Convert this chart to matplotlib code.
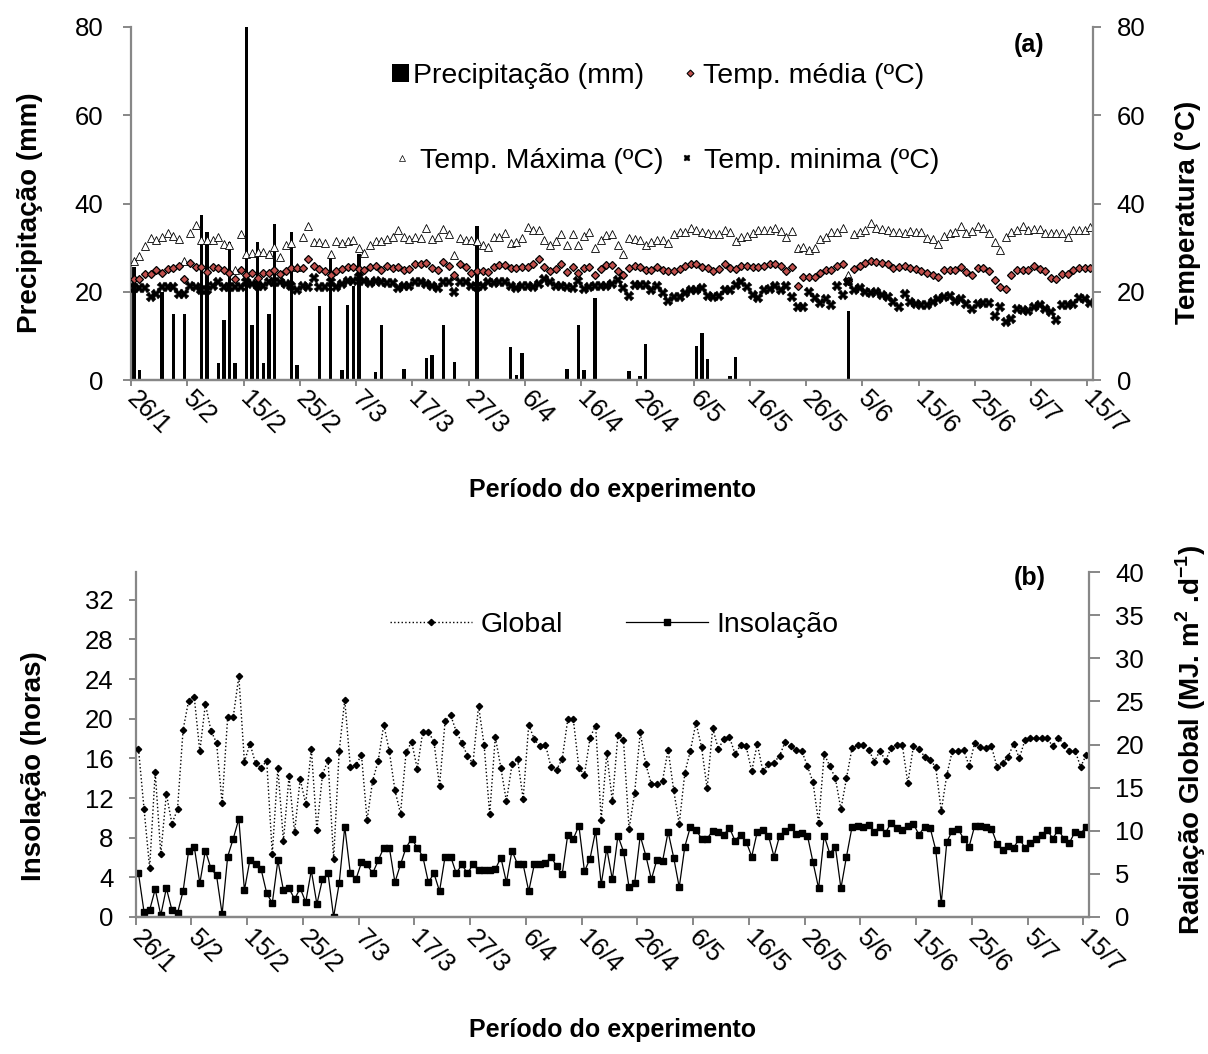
import numpy as np
import matplotlib
matplotlib.use("Agg")
import matplotlib.pyplot as plt
from matplotlib.patches import Patch
from matplotlib.lines import Line2D

plt.rcParams['font.family'] = ['Liberation Sans', 'DejaVu Sans']
plt.rcParams['mathtext.fontset'] = 'custom'
plt.rcParams['mathtext.rm'] = 'Liberation Sans:bold'
plt.rcParams['mathtext.bf'] = 'Liberation Sans:bold'

# ---------------- data (one value per day, 26/1 .. 15/7) ----------------
date_labels = ["26/1", "5/2", "15/2", "25/2", "7/3", "17/3", "27/3", "6/4", "16/4",
               "26/4", "6/5", "16/5", "26/5", "5/6", "15/6", "25/6", "5/7", "15/7"]

# precipitation (mm): day index -> value
rain_days = [0, 1, 5, 7, 9, 12, 13, 15, 16, 17, 18, 20, 21, 22, 23, 24, 25, 28, 29,
             33, 35, 37, 38, 39, 40, 43, 44, 48, 52, 53, 55, 57, 61, 67, 68, 69, 77,
             79, 80, 82, 88, 90, 91, 100, 101, 102, 106, 107, 127]
rain_mm = [25.7, 2.3, 19.9, 15.0, 15.0, 37.5, 33.5, 3.8, 13.7, 31.2, 3.8, 80.0, 12.5,
           31.2, 3.8, 15.0, 35.4, 33.6, 3.3, 16.7, 28.0, 2.3, 17.0, 21.4, 28.6, 1.7,
           12.5, 2.6, 5.0, 5.7, 12.5, 4.0, 34.8, 7.4, 1.2, 6.2, 2.4, 12.5, 2.3, 18.6,
           2.0, 0.8, 8.2, 7.8, 10.7, 4.8, 0.8, 5.1, 15.6]

t_max = [26.9, 28.0, 30.3, 32.2, 31.7, 32.4, 33.3, 32.7, 31.9, 26.9, 33.3, 35.1, 31.7, 31.7,
         31.8, 32.5, 30.8, 30.6, 24.9, 33.0, 28.6, 28.7, 29.0, 29.1, 28.6, 30.1, 27.8, 30.5,
         31.0, 25.5, 32.5, 35.0, 31.3, 31.3, 31.1, 28.6, 31.4, 31.1, 31.4, 31.8, 29.9, 28.8,
         30.6, 31.4, 31.4, 32.0, 32.5, 34.0, 32.5, 32.0, 32.5, 32.2, 34.4, 32.0, 32.5, 34.2,
         33.1, 28.3, 32.2, 31.7, 31.7, 31.6, 30.6, 30.1, 32.5, 32.5, 33.3, 31.0, 31.2, 32.1,
         34.6, 33.9, 33.9, 31.7, 30.5, 31.6, 33.0, 30.7, 33.1, 30.6, 32.6, 33.5, 29.9, 31.7,
         32.9, 33.1,
         30.5, 28.6, 32.2, 32.0, 31.8, 30.7, 31.2, 31.7, 31.7, 31.0, 33.1, 33.5, 33.6, 34.5,
         33.9, 33.5, 33.3, 33.1, 33.0, 33.9, 33.5, 31.4, 32.5, 32.7, 33.3, 33.9, 34.0, 34.0,
         34.5, 33.7, 32.5, 33.7, 29.9, 30.2, 29.5, 29.9, 32.0, 32.5, 33.5, 33.5, 34.5, 23.7,
         33.0,
         33.6, 34.0, 35.5, 34.5, 34.2, 33.9, 33.5, 33.6, 33.4, 33.7, 33.5, 33.6, 32.2, 32.0,
         30.8, 32.7, 33.3, 33.6, 35.0, 33.3, 33.7, 35.0, 34.5, 33.3, 31.2, 29.5, 32.5, 33.5,
         33.9, 34.8, 34.0, 34.2, 34.2, 33.3, 33.3, 33.3, 33.3, 32.5, 34.0, 34.0, 34.0, 34.6]

t_mean = [22.9, 22.9, 24.0, 24.0, 25.0, 24.2, 25.2, 25.3, 25.8, 22.9, 26.5, 25.5, 25.7, 24.4,
          25.5, 25.4, 25.0, 24.3, 22.8, 24.9, 23.7, 24.2, 23.1, 24.2, 24.2, 24.9, 24.0, 24.8,
          25.4, 25.4, 25.4, 27.4, 25.8, 25.2, 24.6, 23.9, 24.8, 25.2, 25.7, 25.5, 25.2, 25.0,
          25.5, 25.9, 24.9, 25.9, 25.4, 25.5, 24.9, 25.2, 26.3, 26.3, 26.5, 25.4, 25.0, 26.7,
          25.9, 23.8, 26.2, 25.7, 24.2, 24.6, 24.6, 24.4, 25.5, 26.1, 26.1, 25.4, 25.3, 25.7,
          25.7, 26.3, 27.4, 25.5, 24.8, 25.2, 26.2, 24.4, 25.7, 24.2, 25.4, 25.5, 23.7, 25.2,
          26.1, 26.1,
          24.6, 23.9, 25.4, 25.9, 25.7, 24.9, 24.9, 25.5, 25.0, 24.8, 24.6, 25.2, 25.9, 26.3,
          26.2, 25.7, 25.4, 24.8, 25.2, 26.2, 25.4, 25.2, 25.9, 25.9, 25.7, 25.5, 25.9, 26.3,
          26.3, 25.9, 24.6, 25.7, 21.4, 23.3, 23.4, 23.3, 24.2, 24.9, 24.9, 25.9, 26.2, 22.5,
          25.2,
          25.9, 26.5, 26.9, 26.7, 26.5, 26.3, 25.3, 25.7, 25.9, 25.4, 25.2, 24.8, 24.2, 23.9,
          23.4, 25.0, 24.9, 25.0, 25.5, 24.4, 23.7, 25.4, 25.4, 24.8, 22.7, 21.0, 20.6, 23.7,
          24.9, 25.0, 25.0, 25.9, 25.2, 24.8, 23.1, 22.9, 24.0, 24.0, 25.0, 25.3, 25.3, 25.4]

t_min = [20.9, 20.9, 20.9, 18.7, 19.5, 21.0, 21.0, 21.0, 19.5, 19.5, 21.4, 21.0, 20.3, 20.3,
         21.4, 22.3, 21.0, 21.0, 21.0, 21.0, 22.1, 21.8, 21.4, 21.4, 22.1, 22.3, 22.1, 21.8,
         21.4, 20.4, 21.4, 21.0, 23.1, 21.0, 21.0, 22.3, 21.0, 21.8, 22.5, 22.5, 23.3, 22.5,
         22.0, 22.4, 22.1, 21.9, 21.9, 20.9, 21.4, 21.4, 22.1, 22.1, 21.8, 21.4, 20.8, 22.1,
         22.3, 20.0, 22.1, 22.1, 21.4, 21.0, 21.4, 22.1, 21.9, 22.1, 22.1, 21.4, 20.8, 21.4,
         21.2, 21.0, 21.8, 22.9, 22.1, 21.4, 21.2, 21.0, 20.8, 22.5, 20.6, 21.0, 21.4, 21.4,
         21.4, 21.8,
         22.7, 20.9, 19.1, 21.5, 21.5, 21.5, 20.3, 21.2, 19.7, 17.8, 18.7, 18.7, 19.7, 20.4,
         20.3, 20.8, 19.1, 18.7, 19.1, 20.3, 20.3, 21.5, 22.3, 21.0, 19.3, 18.5, 20.4, 20.6,
         21.4, 20.4, 21.4, 18.7, 16.5, 16.6, 19.9, 18.5, 17.4, 18.4, 16.9, 21.4, 19.3, 22.1,
         20.3,
         20.9, 19.9, 19.7, 19.9, 19.3, 18.7, 17.6, 16.6, 19.5, 17.6, 17.2, 16.9, 16.9, 17.6,
         18.4, 18.9, 19.1, 18.0, 18.4, 17.2, 16.1, 17.2, 17.4, 17.4, 14.6, 16.5, 13.1, 13.8,
         16.1, 15.9, 15.7, 16.5, 17.1, 16.1, 15.3, 13.5, 16.9, 16.9, 17.2, 18.6, 18.4, 17.4]

insolacao = [4.4, 0.5, 0.7, 2.8, 0.2, 2.9, 0.7, 0.4, 2.6, 6.7, 7.1, 3.4, 6.7, 4.9, 4.2, 0.3,
             6.1, 7.9, 9.9, 2.7, 5.8, 5.3, 4.8, 2.4, 1.4, 5.7, 2.7, 2.9, 1.8, 2.9, 1.5, 4.7,
             1.3, 3.8, 4.4, 0.0, 3.4, 9.1, 4.4, 3.8, 5.5, 5.3,
             4.4, 5.7, 7.0, 7.0, 3.5, 5.3, 7.0, 7.9, 7.0, 6.1, 3.5, 4.4, 2.6, 6.1, 6.1, 4.4,
             5.3, 4.4, 5.3, 4.7, 4.7, 4.7, 4.8, 6.0, 3.5, 6.7, 5.3, 5.3, 2.6, 5.3, 5.3, 5.4,
             6.1, 5.1, 4.3, 8.3, 7.9, 9.2, 4.6, 5.9, 8.7, 3.3, 6.9, 3.8,
             8.2, 6.6, 3.0, 3.4, 8.2, 6.2, 3.8, 5.8, 5.6, 8.6, 6.0, 3.0, 7.1, 9.1, 8.8, 7.9,
             7.9, 8.7, 8.6, 8.3, 9.0, 7.7, 8.3, 7.6, 6.1, 8.6, 8.8, 8.2, 6.1, 8.2, 8.7, 9.1,
             8.4, 8.5, 8.2, 5.5, 2.9, 8.2, 6.4, 7.1, 2.9, 6.1, 9.1,
             9.2, 9.1, 9.3, 8.6, 9.1, 8.5, 9.5, 9.0, 8.8, 9.2, 9.4, 8.3, 9.1, 9.0, 6.8, 1.4,
             7.6, 8.7, 8.9, 7.9, 7.1, 9.2, 9.2, 9.1, 8.9, 7.4, 6.8, 7.2, 7.0, 7.9, 7.0, 7.5,
             7.9, 8.3, 8.8, 7.9, 8.8, 7.9, 7.5, 8.6, 8.4, 9.1]

rad_global = [19.5, 12.5, 5.7, 16.8, 7.3, 14.3, 10.8, 12.5, 21.7, 25.1, 25.5, 19.2, 24.7, 21.6,
              20.2, 13.2, 23.2, 23.2, 27.9, 18.0, 20.1, 17.8, 17.3, 18.1, 7.3, 17.3, 8.8, 16.3,
              9.8, 16.0, 13.1, 19.5, 10.1, 16.5, 18.2, 6.7, 19.2, 25.2, 17.4, 17.6, 18.8, 11.2,
              15.8, 18.1, 22.3, 19.2, 14.7, 12.0, 19.1, 20.3, 17.2, 21.5, 21.5, 20.3, 15.2, 22.7,
              23.4, 21.5, 20.2, 18.7, 17.8, 24.5, 19.9, 11.9, 20.9, 17.3, 13.4, 17.7, 18.3, 13.7,
              22.3, 20.6, 19.8, 20.0, 17.4, 17.1, 18.3, 22.9, 22.9, 17.3, 16.5, 20.8, 22.2, 11.3,
              19.0, 13.4,
              21.1, 20.5, 10.2, 14.4, 21.4, 17.7, 15.4, 15.4, 15.8, 19.4, 14.7, 10.8, 16.7, 19.3,
              22.5, 19.7, 14.9, 21.9, 19.5, 20.6, 20.9, 18.9, 19.9, 19.8, 16.9, 20.1, 16.9, 17.7,
              17.9, 18.7, 20.3, 19.8, 19.4, 19.2, 17.5, 15.6, 10.9, 18.9, 17.5, 16.1, 12.5, 16.1,
              19.6,
              19.9, 20.0, 19.4, 18.0, 19.3, 18.1, 19.6, 20.0, 20.0, 15.5, 19.8, 19.5, 18.6, 18.2,
              17.4, 12.3, 16.5, 19.3, 19.2, 19.4, 17.5, 20.2, 19.7, 19.6, 19.8, 17.4, 17.8, 18.6,
              20.1, 18.4, 20.5, 20.7, 20.7, 20.8, 20.7, 19.8, 20.8, 20.0, 19.3, 19.3, 17.4, 18.8]

n_days = len(t_max)
precip = np.zeros(n_days)
precip[rain_days] = rain_mm
x = np.arange(n_days) + 0.5

GRAY = '#878787'
FS = 18.5
LFS = 20.5


def style(ax, side, ylen, ypad, xlen, xpad):
    for s in ax.spines.values():
        s.set_color(GRAY)
        s.set_linewidth(1.6)
    ax.spines['top'].set_visible(False)
    if side == 'left':
        ax.spines['right'].set_visible(False)
    else:
        ax.spines['left'].set_visible(False)
    ax.tick_params(axis='y', direction='out', length=ylen, width=1.4, color=GRAY,
                   labelsize=FS, pad=ypad)
    ax.tick_params(axis='x', direction='out', length=xlen, width=1.4, color=GRAY,
                   labelsize=FS, pad=xpad)


def date_axis(ax):
    ax.set_xlim(0, n_days)
    ax.set_xticks(np.arange(0, n_days, 10))
    ax.set_xticklabels(date_labels, rotation=-45, ha='left', va='center',
                       rotation_mode='anchor')


fig = plt.figure(figsize=(12.08, 10.54), dpi=100)

# ---------------- (a) ----------------
ax1 = fig.add_axes([131 / 1208, 1 - 380 / 1054, 962 / 1208, 353 / 1054])
ax1.bar(x, precip, width=0.6, color='black', zorder=2)
ax1.set_ylim(0, 80)
ax1.set_yticks(np.arange(0, 81, 20))
date_axis(ax1)
style(ax1, 'left', 6, 14, 4, 7)

ax2 = ax1.twinx()
ax2.plot(x, t_max, ls='none', marker='^', ms=5.5, mfc='white', mec='black', mew=0.6)
ax2.plot(x, t_mean, ls='none', marker='D', ms=4.5, mfc='#c0504d', mec='black', mew=0.9)
ax2.plot(x, t_min, ls='none', marker='X', ms=6.5, mfc='black', mec='black', mew=0.3)
ax2.set_ylim(0, 80)
ax2.set_yticks(np.arange(0, 81, 20))
style(ax2, 'right', 6, 11, 4, 7)

h_pr = Patch(facecolor='black')
h_mean = Line2D([], [], ls='none', marker='D', ms=3.5, mfc='#c0504d', mec='black', mew=0.8)
h_max = Line2D([], [], ls='none', marker='^', ms=4, mfc='white', mec='black', mew=0.5)
h_min = Line2D([], [], ls='none', marker='X', ms=5, mfc='black', mec='black', mew=0.3)
leg1 = ax2.legend([h_pr, h_mean], ['Precipitação (mm)', 'Temp. média (ºC)'], ncol=2,
                  loc='center', bbox_to_anchor=(0.548, 0.862), frameon=False, fontsize=LFS,
                  handlelength=0.6, handleheight=0.6, handletextpad=0.15,
                  columnspacing=1.3, borderpad=0)
ax2.add_artist(leg1)
ax2.legend([h_max, h_min], ['Temp. Máxima (ºC)', 'Temp. minima (ºC)'], ncol=2,
           loc='center', bbox_to_anchor=(0.557, 0.62), frameon=False, fontsize=LFS,
           handlelength=0.6, handletextpad=0.3, columnspacing=0.55, borderpad=0)
ax1.text(0.934, 0.949, '(a)', transform=ax1.transAxes, fontsize=18, fontweight='bold',
         ha='center', va='center')

# ---------------- (b) ----------------
ax3 = fig.add_axes([135.7 / 1208, 1 - 917 / 1054, 953.3 / 1208, 345 / 1054])
l_ins, = ax3.plot(x, insolacao, ls='-', lw=0.9, color='black', marker='s', ms=4.5)
ax3.set_ylim(0, 34.8)
ax3.set_yticks(np.arange(0, 33, 4))
date_axis(ax3)
style(ax3, 'left', 5, 11, 6, 6)

ax4 = ax3.twinx()
l_glo, = ax4.plot(x, rad_global, ls=':', lw=1.0, color='black', marker='D', ms=3.2)
ax4.set_ylim(0, 40)
ax4.set_yticks(np.arange(0, 41, 5))
style(ax4, 'right', 8, 11, 6, 6)
ax4.legend([l_glo, l_ins], ['Global', 'Insolação'], ncol=2, loc='center',
           bbox_to_anchor=(0.502, 0.846), frameon=False, fontsize=LFS,
           handlelength=2.9, handletextpad=0.3, columnspacing=2.2, borderpad=0)
ax3.text(0.938, 0.983, '(b)', transform=ax3.transAxes, fontsize=18, fontweight='bold',
         ha='center', va='center')

# ---------------- axis titles ----------------
fig.text(30 / 1208, 1 - 213 / 1054, 'Precipitação (mm)', rotation=90, fontsize=20,
         fontweight='bold', ha='center', va='center')
fig.text(1188 / 1208, 1 - 212 / 1054, 'Temperatura (°C)', rotation=90, fontsize=20,
         fontweight='bold', ha='center', va='center')
fig.text(613 / 1208, 1 - 490 / 1054, 'Período do experimento', fontsize=18,
         fontweight='bold', ha='center', va='center')
fig.text(34 / 1208, 1 - 766 / 1054, 'Insolação (horas)', rotation=90, fontsize=20,
         fontweight='bold', ha='center', va='center')
fig.text(1191 / 1208, 1 - 740 / 1054, r'Radiação Global (MJ. m$^{2}$ .d$^{-1}$)',
         rotation=90, fontsize=20, fontweight='bold', ha='center', va='center')
fig.text(613 / 1208, 1 - 1030 / 1054, 'Período do experimento', fontsize=18,
         fontweight='bold', ha='center', va='center')

fig.savefig('out.png', dpi=100)
